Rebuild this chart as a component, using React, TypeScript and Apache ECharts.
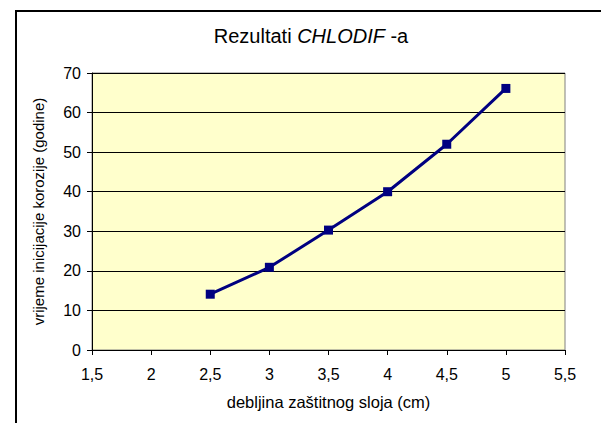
import React, { useEffect, useRef } from "react";
import * as echarts from "echarts";

const thickness = [2.5, 3, 3.5, 4, 4.5, 5];
const initiationYears = [14.1, 20.9, 30.3, 40, 52, 66.1];
const titlePlain = "Rezultati ";
const titleItalic = "CHLODIF";
const titleSuffix = " -a";
const xAxisTitle = "debljina zaštitnog sloja (cm)";
const yAxisTitle = "vrijeme inicijacije korozije (godine)";

const FONT = "'Liberation Sans', Arial, sans-serif";

export default function App() {
  const ref = useRef<HTMLDivElement>(null);
  useEffect(() => {
    if (!ref.current) return;
    const chart = echarts.init(ref.current, null, { renderer: "svg" });
    const data = thickness.map((x, i) => [x, initiationYears[i]]);
    chart.setOption({
      animation: false,
      backgroundColor: "#ffffff",
      textStyle: { fontFamily: FONT, color: "#000" },
      grid: {
        left: 92,
        top: 73,
        right: 36,
        bottom: 73,
        show: true,
        backgroundColor: "#FFFFCC",
        borderColor: "#808080",
        borderWidth: 1,
      },
      xAxis: {
        type: "value",
        min: 1.5,
        max: 5.5,
        interval: 0.5,
        name: xAxisTitle,
        nameLocation: "middle",
        nameGap: 43,
        nameTextStyle: { fontFamily: FONT, fontSize: 16.5, color: "#000" },
        axisLine: { show: true, onZero: false, lineStyle: { color: "#000", width: 1 } },
        axisTick: { show: true, inside: false, length: 5, lineStyle: { color: "#000" } },
        axisLabel: {
          fontFamily: FONT,
          fontSize: 16,
          color: "#000",
          margin: 16,
          formatter: (v: number) => String(v).replace(".", ","),
        },
        splitLine: { show: false },
      },
      yAxis: {
        type: "value",
        min: 0,
        max: 70,
        interval: 10,
        name: yAxisTitle,
        nameLocation: "middle",
        nameGap: 46,
        nameTextStyle: { fontFamily: FONT, fontSize: 15, color: "#000" },
        axisLine: { show: true, lineStyle: { color: "#000", width: 1 } },
        axisTick: { show: true, inside: false, length: 5, lineStyle: { color: "#000" } },
        axisLabel: { fontFamily: FONT, fontSize: 16, color: "#000", margin: 11 },
        splitLine: { show: true, lineStyle: { color: "#000", width: 1 } },
      },
      graphic: [
        {
          type: "rect",
          shape: { x: 16, y: 11, width: 800, height: 800 },
          style: { fill: "none", stroke: "#000", lineWidth: 2 },
          silent: true,
        },
        {
          type: "text",
          x: 311,
          y: 36,
          style: {
            text: `{a|${titlePlain}}{b|${titleItalic}}{a|${titleSuffix}}`,
            align: "center",
            verticalAlign: "middle",
            rich: {
              a: { fontFamily: FONT, fontSize: 20, fill: "#000" },
              b: { fontFamily: FONT, fontSize: 20, fontStyle: "italic", fill: "#000" },
            },
          },
        },
      ],
      series: [
        {
          type: "line",
          data,
          symbol: "rect",
          symbolSize: 9,
          lineStyle: { color: "#000080", width: 3 },
          itemStyle: { color: "#000080" },
        },
      ],
    });
    return () => chart.dispose();
  }, []);
  return (
    <div
      ref={ref}
      style={{ position: "fixed", left: 0, top: 0, width: 601, height: 423 }}
    />
  );
}
